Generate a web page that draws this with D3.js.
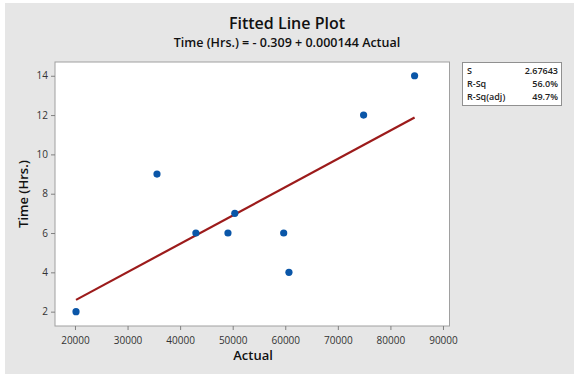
<!DOCTYPE html>
<html><head><meta charset="utf-8">
<script src="https://cdn.jsdelivr.net/npm/d3@7"></script>
<style>body{margin:0;background:#fff}svg{display:block}text{font-family:"Open Sans","Noto Sans",sans-serif}</style>
</head><body><svg id="c" width="574" height="374"></svg>
<script>
const actual = [20200, 35600, 43000, 49100, 50400, 59700, 60700, 74900, 84600];
const hours  = [2, 9, 6, 6, 7, 6, 4, 12, 14];
const xTicks = [20000, 30000, 40000, 50000, 60000, 70000, 80000, 90000];
const yTicks = [2, 4, 6, 8, 10, 12, 14];
const intercept = -0.309, slope = 0.000144;
const statLabels = ["S", "R-Sq", "R-Sq(adj)"];
const statValues = ["2.67643", "56.0%", "49.7%"];

const svg = d3.select("#c");
svg.append("rect").attr("x",5).attr("y",3).attr("width",569).attr("height",371).attr("fill","#e6e6e6");
const L=55,R=449.5,T=62,B=326;
const x = d3.scaleLinear().domain([16200,91240]).range([L,R]);
const y = d3.scaleLinear().domain([1.27,14.70]).range([B,T]);
svg.append("rect").attr("x",L).attr("y",T).attr("width",R-L).attr("height",B-T).attr("fill","#fff").attr("stroke","#a0a0a0").attr("stroke-width",1);

const xa = svg.append("g").attr("transform",`translate(0,${B})`).call(d3.axisBottom(x).tickValues(xTicks).tickFormat(d3.format("d")).tickSize(4).tickSizeOuter(0));
const ya = svg.append("g").attr("transform",`translate(${L},0)`).call(d3.axisLeft(y).tickValues(yTicks).tickSize(4).tickSizeOuter(0));
[xa,ya].forEach(a=>{a.select(".domain").remove();a.selectAll("line").attr("stroke","#808080");a.selectAll("text").attr("font-size",10).attr("fill","#333").attr("font-family","'Open Sans',sans-serif");});
xa.selectAll("text").attr("dy","1.1em");

const xs=d3.extent(actual);
const line=d3.line().x(d=>x(d)).y(d=>y(intercept+slope*d));
svg.append("path").datum(xs).attr("d",line).attr("stroke","#9c1b1b").attr("stroke-width",2.2).attr("fill","none");

svg.selectAll("circle.p").data(actual).join("circle").attr("class","p")
 .attr("cx",d=>x(d)).attr("cy",(d,i)=>y(hours[i])).attr("r",3.6).attr("fill","#0a56a8");

svg.append("text").attr("x",287).attr("y",29).attr("text-anchor","middle").attr("font-size",16).attr("font-weight",600).attr("fill","#111").text("Fitted Line Plot");
svg.append("text").attr("x",287).attr("y",47).attr("text-anchor","middle").attr("font-size",12.5).attr("font-weight",600).attr("fill","#111").text("Time (Hrs.) = - 0.309 + 0.000144 Actual");
svg.append("text").attr("x",253).attr("y",360).attr("text-anchor","middle").attr("font-size",13).attr("font-weight",600).attr("fill","#111").text("Actual");
svg.append("text").attr("transform","translate(28,194) rotate(-90)").attr("text-anchor","middle").attr("font-size",13).attr("font-weight",600).attr("fill","#111").text("Time (Hrs.)");

svg.append("rect").attr("x",462.5).attr("y",62.5).attr("width",99).attr("height",43).attr("fill","#fff").attr("stroke","#909090");
statLabels.forEach((s,i)=>{
 svg.append("text").attr("x",467).attr("y",74+i*13).attr("font-size",9).attr("font-weight",600).attr("fill","#222").text(s);
 svg.append("text").attr("x",558).attr("y",74+i*13).attr("text-anchor","end").attr("font-size",9).attr("font-weight",600).attr("fill","#222").text(statValues[i]);
});
</script></body></html>
